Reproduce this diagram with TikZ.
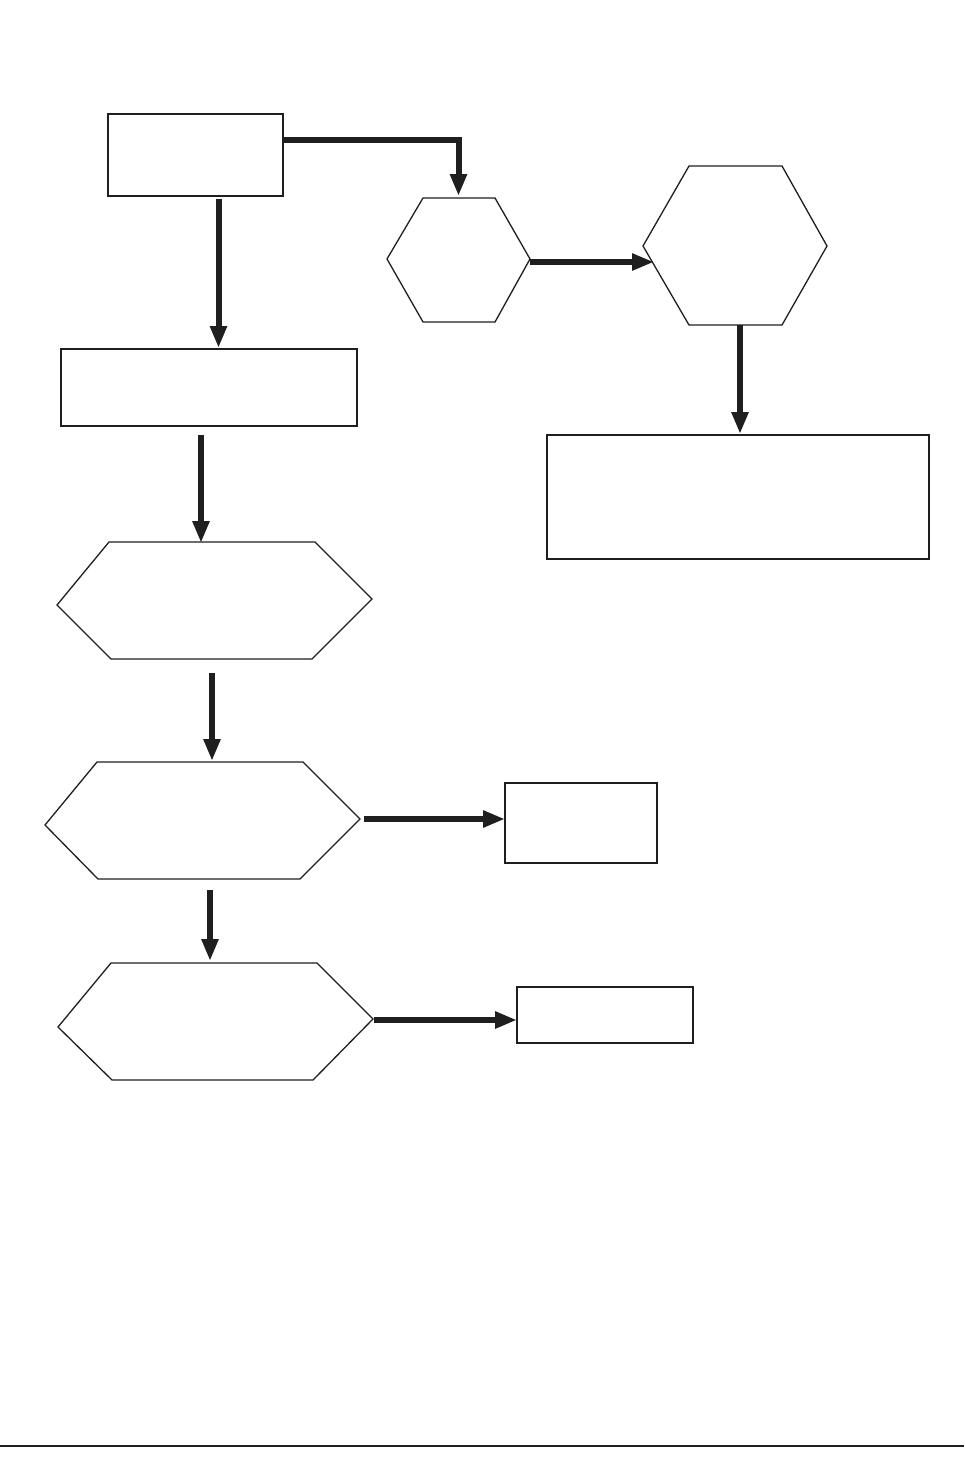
\documentclass[tikz,border=0pt]{standalone}
\usetikzlibrary{arrows.meta}
\begin{document}
\begin{tikzpicture}[x=1pt,y=-1pt,
  box/.style={draw=black!88, line width=2pt, rectangle, inner sep=0pt, outer sep=0pt},
  hexline/.style={draw=black!88, line width=1.3pt, line join=miter},
  arr/.style={draw=black!88, line width=6pt, -{Triangle[width=16pt,length=22pt]}, color=black!88}]
\useasboundingbox (0,0) rectangle (964,1483);
% rectangles
\node[box, minimum width=175pt, minimum height=82pt] (A) at (195.5,155) {};
\node[box, minimum width=296pt, minimum height=77pt] (B) at (209,387.5) {};
\node[box, minimum width=382pt, minimum height=124pt] (C) at (738,497) {};
\node[box, minimum width=152pt, minimum height=80pt] (D) at (581,823) {};
\node[box, minimum width=176pt, minimum height=56pt] (E) at (605,1015) {};
% hexagons
\draw[hexline] (423,198) -- (495,198) -- (530,259) -- (495,322) -- (423,322) -- (387,259) -- cycle;
\draw[hexline] (689,166) -- (782,166) -- (827,246) -- (782,325) -- (689,325) -- (643,246) -- cycle;
\draw[hexline] (109,542) -- (315,542) -- (372,599) -- (312,659) -- (111,659) -- (57,605) -- cycle;
\draw[hexline] (97,762) -- (303,762) -- (360,819) -- (300,879) -- (98,879) -- (45,825) -- cycle;
\draw[hexline] (111,963) -- (317,963) -- (373,1019) -- (313,1080) -- (112,1080) -- (58,1027) -- cycle;
% connection points
\coordinate (H1top) at (458.5,196);
\coordinate (H1right) at (530,262);
\coordinate (H2left) at (654,262);
\coordinate (H2bot) at (740,325);
\coordinate (Ctop) at (740,434);
\coordinate (Aout) at (218.5,199);
\coordinate (Btop) at (218.5,348);
\coordinate (Bout) at (201,435);
\coordinate (H3top) at (201,543);
\coordinate (H3out) at (212,673);
\coordinate (H4top) at (212,761);
\coordinate (H4out) at (364,819);
\coordinate (H4low) at (210,890);
\coordinate (H5top) at (210,961);
\coordinate (H5out) at (374,1020);
% connectors
\draw[arr] (A.east |- 0,140) -| (H1top);
\draw[arr] (Aout) -- (Btop);
\draw[arr] (H1right) -- (H2left);
\draw[arr] (H2bot) -- (Ctop);
\draw[arr] (Bout) -- (H3top);
\draw[arr] (H3out) -- (H4top);
\draw[arr] (H4out) -- (D.west |- H4out);
\draw[arr] (H4low) -- (H5top);
\draw[arr] (H5out) -- (E.west |- H5out);
% bottom rule
\coordinate (L0) at (0,1446);
\coordinate (L1) at (964,1446);
\draw[draw=black!88, line width=2pt] (L0) -- (L1);
\end{tikzpicture}
\end{document}
